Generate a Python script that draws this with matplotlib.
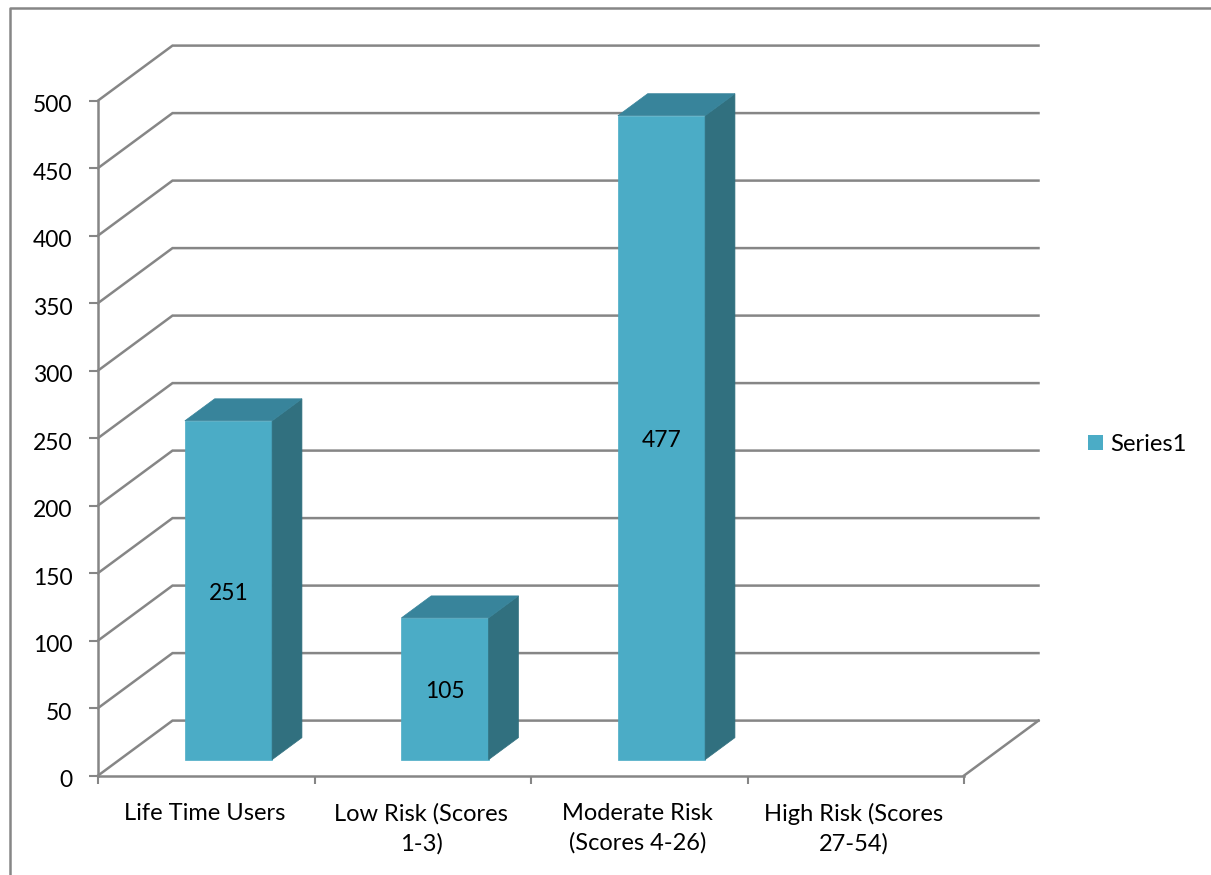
#!/usr/bin/env python3
"""Oblique 3D style column chart of risk score groups."""

import matplotlib

matplotlib.use("Agg")

import matplotlib.pyplot as plt
import numpy as np
from matplotlib.lines import Line2D
from matplotlib.patches import Patch, Polygon
from matplotlib.transforms import ScaledTranslation

CATEGORIES = [
    "Life Time Users",
    "Low Risk (Scores\n1-3)",
    "Moderate Risk\n(Scores 4-26)",
    "High Risk (Scores\n27-54)",
]
VALUES = [251, 105, 477]
Y_TICKS = list(range(0, 501, 50))
SERIES_NAME = "Series1"

GREY = "#868686"
FRONT = "#4BACC6"
SIDE = "#31707F"
TOP = "#38849B"

WIDTH, HEIGHT = 1211, 875
# depth offset of the back wall, in category and value units
DEPTH_X = 74.5 / 216.5
DEPTH_Y = 55 / 1.35
BAR_WIDTH = 0.403
BAR_DEPTH = (0.29, 0.69)

plt.rcParams["font.family"] = ["Lato", "DejaVu Sans"]


def project(x, v, d):
    return x + d * DEPTH_X, v + d * DEPTH_Y


def draw_bar(ax, center, value):
    left, right = center - BAR_WIDTH / 2, center + BAR_WIDTH / 2
    d0, d1 = BAR_DEPTH
    faces = [
        ([(left, 0, d0), (right, 0, d0), (right, value, d0), (left, value, d0)], FRONT),
        ([(right, 0, d0), (right, 0, d1), (right, value, d1), (right, value, d0)], SIDE),
        ([(left, value, d0), (right, value, d0), (right, value, d1), (left, value, d1)], TOP),
    ]
    for corners, color in faces:
        points = [project(*c) for c in corners]
        ax.add_patch(Polygon(points, closed=True, facecolor=color, edgecolor=color,
                             linewidth=0.5, zorder=3, clip_on=False))
    ax.annotate(str(value), project(center, value / 2, d0), xytext=(0, -2),
                textcoords="offset points", ha="center", va="center", fontsize=16.5,
                color="black", zorder=4)


fig = plt.figure(figsize=(WIDTH / 100, HEIGHT / 100), dpi=100)
ax = fig.add_axes([98 / WIDTH, 99.4 / HEIGHT, 866 / WIDTH, 675 / HEIGHT])
ax.set_xlim(0, len(CATEGORIES))
ax.set_ylim(0, 500)

# side wall and back wall gridlines
for v in Y_TICKS:
    xs, ys = zip(project(0, v, 0), project(0, v, 1), project(len(CATEGORIES), v, 1))
    ax.plot(xs, ys, color=GREY, linewidth=1.8, zorder=1, clip_on=False,
            solid_joinstyle="miter")

# right edge of the floor
xs, ys = zip(project(len(CATEGORIES), 0, 0), project(len(CATEGORIES), 0, 1))
ax.plot(xs, ys, color=GREY, linewidth=1.8, zorder=1, clip_on=False)

for i, value in enumerate(VALUES):
    draw_bar(ax, i + 0.503, value)

for name in ("top", "right"):
    ax.spines[name].set_visible(False)
for name in ("left", "bottom"):
    ax.spines[name].set_color(GREY)
    ax.spines[name].set_linewidth(1.8)
ax.patch.set_visible(False)

ax.set_yticks(Y_TICKS)
ax.tick_params(axis="y", length=6.5, width=1.5, color=GREY, labelsize=16.5, pad=12)
# tick labels sit slightly below their ticks
shift_down = ScaledTranslation(0, -3 / 100, fig.dpi_scale_trans)
for label in ax.get_yticklabels():
    label.set_transform(label.get_transform() + shift_down)

ax.set_xticks(np.arange(len(CATEGORIES) + 1))
ax.set_xticklabels([])
ax.tick_params(axis="x", which="major", length=6, width=1.5, color=GREY)
ax.set_xticks(np.arange(len(CATEGORIES)) + 0.5 - 0.008, minor=True)
ax.set_xticklabels(CATEGORIES, minor=True, fontsize=17, linespacing=1.45)
ax.tick_params(axis="x", which="minor", length=0, pad=20)

fig.legend(
    handles=[Patch(facecolor=FRONT, edgecolor="none", label=SERIES_NAME)],
    loc="center left",
    bbox_to_anchor=(1084 / WIDTH, 1 - 444.5 / HEIGHT),
    frameon=False,
    fontsize=17.2,
    handlelength=0.63,
    handleheight=0.63,
    handletextpad=0.3,
    borderpad=0.16,
    borderaxespad=0,
)

# chart area border along the top and left
fig.add_artist(Line2D([10 / WIDTH, 10 / WIDTH, 1], [0, 1 - 7.5 / HEIGHT, 1 - 7.5 / HEIGHT],
                      color=GREY, linewidth=1.8, transform=fig.transFigure))

fig.savefig("out.png", dpi=100)
